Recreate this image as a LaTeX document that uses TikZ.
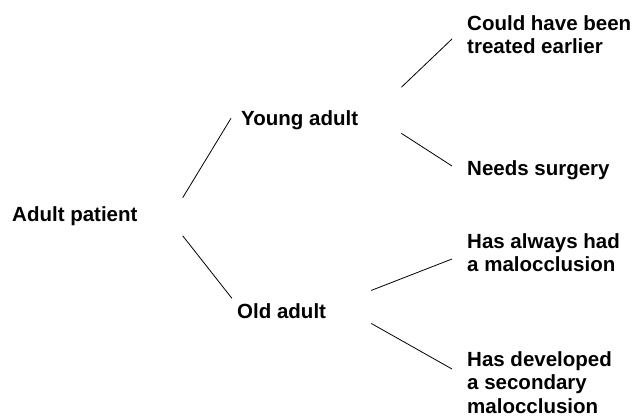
\documentclass[tikz,border=0pt]{standalone}
\usepackage{fontspec}
\setmainfont{Liberation Sans}
\usepackage{tikz}
\usetikzlibrary{positioning}
\tikzset{
  lbl/.style={anchor=north west, inner sep=0pt, align=left,
    font=\bfseries\fontsize{20.5}{23.5}\selectfont},
  branch/.style={line width=0.8pt}
}
\begin{document}
\begin{tikzpicture}[x=1pt,y=1pt]
\useasboundingbox (0,0) rectangle (636,416);
\node (pat) [lbl] at (12,210) {Adult patient};
\node (young) [lbl] at (241,306) {Young adult};
\node (old) [lbl] at (237,113) {Old adult};
\node (early) [lbl] at (467,401) {Could have been\\treated earlier};
\node (surg) [lbl] at (467,256) {Needs surgery};
\node (always) [lbl] at (467,183) {Has always had\\a malocclusion};
\node (second) [lbl] at (467,65) {Has developed\\a secondary\\malocclusion};
\draw[branch]([shift={(45,18)}]pat.east)--([shift={(-10,1.5)}]young.west);
\draw[branch]([shift={(45,-20)}]pat.east)--([shift={(-5,12.3)}]old.west);
\draw[branch]([shift={(43,32.5)}]young.east)--([shift={(-15,-24)}]early.north west);
\draw[branch]([shift={(43,-13.5)}]young.east)--([shift={(-15,-6)}]surg.north west);
\draw[branch]([shift={(45,20.3)}]old.east)--([shift={(-15,-26)}]always.north west);
\draw[branch]([shift={(45,-12.7)}]old.east)--([shift={(-15,-18)}]second.north west);
\end{tikzpicture}
\end{document}
